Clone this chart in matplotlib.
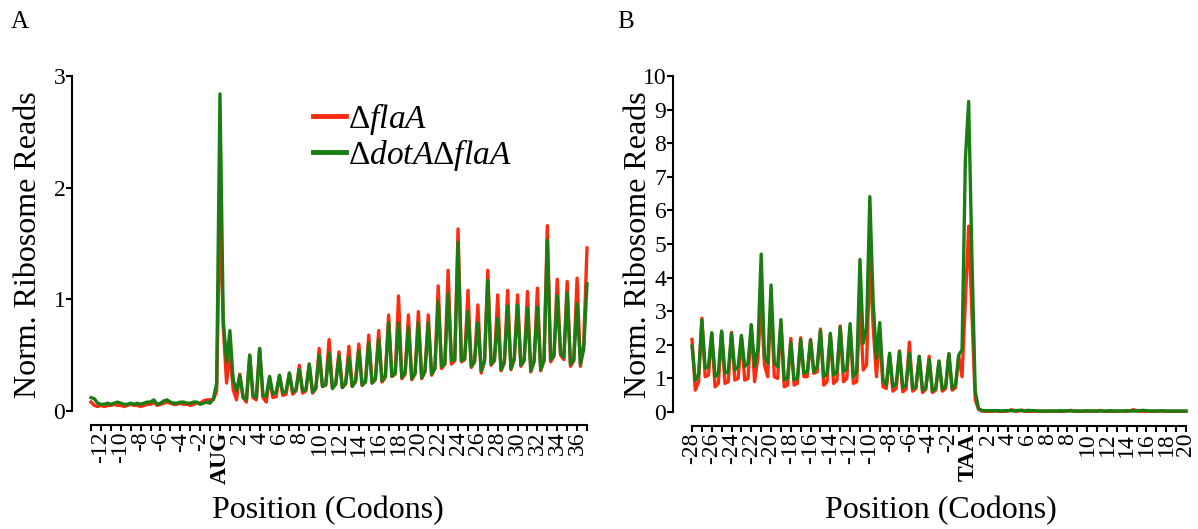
import numpy as np
import matplotlib.pyplot as plt

plt.rcParams['font.family'] = 'Liberation Serif'
plt.rcParams['mathtext.fontset'] = 'custom'
plt.rcParams['mathtext.rm'] = 'Liberation Serif'
plt.rcParams['mathtext.it'] = 'Liberation Serif:italic'

RED = '#ff2b0f'
GREEN = '#1a7d14'

# ---- panel A: reads around the start codon, codons -13..37 (3 values per codon) ----
start_first, start_last = -13, 37
start_flaA = [
    [0.08, 0.05, 0.04], [0.05, 0.04, 0.05], [0.05, 0.06, 0.05], [0.05, 0.04, 0.05],
    [0.06, 0.05, 0.05], [0.04, 0.05, 0.06], [0.06, 0.08, 0.05], [0.06, 0.07, 0.08],
    [0.07, 0.06, 0.06], [0.07, 0.06, 0.06], [0.05, 0.06, 0.07], [0.07, 0.09, 0.10],
    [0.10, 0.10, 0.18],
    [1.85, 0.75, 0.25], [0.54, 0.19, 0.10], [0.33, 0.12, 0.08], [0.50, 0.12, 0.10],
    [0.56, 0.12, 0.08], [0.30, 0.12, 0.13], [0.32, 0.14, 0.15], [0.34, 0.15, 0.18],
    [0.41, 0.16, 0.18], [0.42, 0.16, 0.20], [0.56, 0.22, 0.23], [0.64, 0.21, 0.24],
    [0.53, 0.21, 0.24], [0.58, 0.22, 0.26], [0.60, 0.23, 0.26], [0.68, 0.25, 0.28],
    [0.72, 0.26, 0.30], [0.86, 0.31, 0.33], [1.03, 0.29, 0.33], [0.86, 0.28, 0.33],
    [0.89, 0.29, 0.35], [0.86, 0.32, 0.38], [1.12, 0.38, 0.42], [1.26, 0.42, 0.45],
    [1.63, 0.44, 0.46], [1.08, 0.39, 0.44], [0.95, 0.34, 0.44], [1.26, 0.41, 0.45],
    [1.04, 0.36, 0.43], [1.08, 0.37, 0.46], [1.04, 0.40, 0.45], [1.07, 0.35, 0.44],
    [1.10, 0.36, 0.45], [1.66, 0.44, 0.49], [1.18, 0.50, 0.46], [1.16, 0.40, 0.45],
    [1.19, 0.40, 0.60], [1.46],
]
start_dotA_flaA = [
    [0.12, 0.11, 0.07], [0.06, 0.06, 0.07], [0.06, 0.07, 0.08], [0.07, 0.06, 0.06],
    [0.07, 0.06, 0.07], [0.06, 0.07, 0.08], [0.08, 0.10, 0.06], [0.07, 0.09, 0.10],
    [0.08, 0.07, 0.07], [0.08, 0.08, 0.07], [0.07, 0.08, 0.08], [0.06, 0.07, 0.08],
    [0.07, 0.11, 0.25],
    [2.84, 0.81, 0.44], [0.72, 0.28, 0.18], [0.32, 0.12, 0.10], [0.50, 0.14, 0.12],
    [0.56, 0.14, 0.13], [0.31, 0.15, 0.17], [0.32, 0.16, 0.18], [0.34, 0.17, 0.19],
    [0.37, 0.18, 0.19], [0.42, 0.17, 0.21], [0.50, 0.22, 0.24], [0.52, 0.20, 0.24],
    [0.49, 0.21, 0.25], [0.48, 0.22, 0.27], [0.54, 0.23, 0.26], [0.61, 0.25, 0.29],
    [0.64, 0.27, 0.31], [0.79, 0.31, 0.34], [0.79, 0.30, 0.35], [0.75, 0.29, 0.34],
    [0.79, 0.30, 0.36], [0.79, 0.33, 0.38], [0.98, 0.40, 0.42], [1.05, 0.45, 0.46],
    [1.51, 0.45, 0.47], [0.89, 0.40, 0.45], [0.79, 0.36, 0.45], [1.17, 0.42, 0.46],
    [0.83, 0.37, 0.44], [0.94, 0.38, 0.47], [0.95, 0.41, 0.46], [0.92, 0.36, 0.45],
    [0.93, 0.37, 0.46], [1.53, 0.46, 0.50], [1.03, 0.52, 0.48], [1.06, 0.42, 0.46],
    [0.96, 0.42, 0.55], [1.14],
]
start_ticklabels = ['-12', '-10', '-8', '-6', '-4', '-2', 'AUG', '2', '4', '6', '8',
                    '10', '12', '14', '16', '18', '20', '22', '24', '26', '28', '30',
                    '32', '34', '36']
start_yticks = [0, 1, 2, 3]

# ---- panel B: reads around the stop codon, codons -28..22 ----
stop_first, stop_last = -28, 22
stop_flaA = [
    [2.16, 0.65, 0.90], [2.79, 1.05, 1.10], [2.34, 0.75, 0.85], [2.39, 0.85, 0.90],
    [2.37, 0.95, 1.00], [2.24, 0.95, 1.00], [2.58, 0.90, 1.60], [3.23, 1.40, 1.05],
    [3.30, 1.05, 1.00], [2.64, 0.75, 0.80], [2.19, 0.80, 0.85], [2.21, 1.05, 1.05],
    [2.16, 1.15, 1.20], [2.47, 0.80, 0.90], [2.32, 0.85, 0.95], [2.56, 0.90, 1.00],
    [2.52, 0.85, 0.90], [3.15, 1.25, 1.40], [4.52, 2.54, 1.05], [2.34, 0.75, 0.70],
    [1.70, 0.62, 0.70], [1.82, 0.60, 0.68], [2.08, 0.62, 0.70], [1.65, 0.58, 0.68],
    [1.66, 0.58, 0.65], [1.50, 0.62, 0.70], [1.72, 0.65, 0.72], [1.65, 1.05, 3.30],
    [5.53, 2.90, 0.36],
    [0.08, 0.03, 0.02], [0.02, 0.02, 0.03], [0.02, 0.02, 0.02], [0.03, 0.07, 0.03],
    [0.02, 0.06, 0.02], [0.02, 0.02, 0.02], [0.02, 0.02, 0.02], [0.02, 0.03, 0.02],
    [0.02, 0.02, 0.02], [0.03, 0.05, 0.02], [0.02, 0.02, 0.02], [0.02, 0.02, 0.03],
    [0.02, 0.05, 0.02], [0.02, 0.02, 0.02], [0.02, 0.03, 0.02], [0.02, 0.03, 0.07],
    [0.04, 0.02, 0.02], [0.02, 0.02, 0.02], [0.02, 0.03, 0.02], [0.02, 0.02, 0.02],
    [0.02, 0.02, 0.02], [0.02],
]
stop_dotA_flaA = [
    [1.96, 0.95, 1.10], [2.74, 1.30, 1.35], [2.36, 1.05, 1.15], [2.41, 1.15, 1.20],
    [2.34, 1.25, 1.35], [2.28, 1.35, 1.45], [2.60, 1.35, 1.90], [4.70, 1.65, 1.45],
    [3.78, 1.45, 1.35], [2.75, 0.95, 1.00], [2.07, 0.95, 1.00], [2.16, 1.15, 1.20],
    [2.14, 1.20, 1.35], [2.42, 1.05, 1.15], [2.34, 1.10, 1.20], [2.52, 1.20, 1.30],
    [2.63, 1.05, 1.20], [4.54, 2.04, 2.50], [6.41, 3.30, 1.60], [2.66, 0.95, 0.80],
    [1.75, 0.75, 0.85], [1.79, 0.72, 0.80], [1.74, 0.70, 0.75], [1.66, 0.65, 0.72],
    [1.56, 0.62, 0.70], [1.52, 0.68, 0.75], [1.74, 0.70, 0.80], [1.70, 1.85, 7.50],
    [9.24, 4.60, 0.62],
    [0.10, 0.05, 0.04], [0.04, 0.04, 0.04], [0.04, 0.03, 0.04], [0.04, 0.04, 0.03],
    [0.05, 0.04, 0.03], [0.05, 0.04, 0.04], [0.03, 0.03, 0.03], [0.03, 0.03, 0.03],
    [0.03, 0.04, 0.03], [0.04, 0.03, 0.03], [0.03, 0.03, 0.03], [0.04, 0.03, 0.03],
    [0.03, 0.03, 0.03], [0.03, 0.04, 0.03], [0.03, 0.03, 0.03], [0.04, 0.03, 0.03],
    [0.03, 0.04, 0.05], [0.04, 0.03, 0.03], [0.03, 0.03, 0.04], [0.03, 0.03, 0.03],
    [0.03, 0.03, 0.03], [0.03],
]
# labels sit on every even codon; the second "8" is as printed on the axis
stop_ticklabels = ['-28', '-26', '-24', '-22', '-20', '-18', '-16', '-14', '-12', '-10',
                   '-8', '-6', '-4', '-2', 'TAA', '2', '4', '6', '8', '8', '10', '12',
                   '14', '16', '18', '20']
stop_yticks = list(range(0, 11))


def flatten(triplets):
    return np.array([v for codon in triplets for v in codon])


def draw_panel(ax, first, last, red, green, yticks, ticklabels, codon_label):
    red = flatten(red)
    green = flatten(green)
    x = first + np.arange(len(red)) / 3
    ax.plot(x, red, color=RED, lw=2.4, label=r'$\Delta\mathit{flaA}$', clip_on=False)
    ax.plot(x, green, color=GREEN, lw=2.4, label=r'$\Delta\mathit{dotA}\Delta\mathit{flaA}$',
            clip_on=False)
    ax.set_xlim(first, last)
    ax.set_ylim(yticks[0], yticks[-1])

    for side in ('top', 'right'):
        ax.spines[side].set_visible(False)
    ax.spines['left'].set_position(('outward', 13.5))
    ax.spines['bottom'].set_position(('outward', 10))
    for side in ('left', 'bottom'):
        ax.spines[side].set_linewidth(1.5)

    ax.set_yticks(yticks)
    ax.set_yticklabels([str(t) for t in yticks], fontsize=17)
    even = np.arange(first + first % 2, last + 1, 2)
    odd = np.arange(first + 1 - first % 2, last + 1, 2)
    ax.set_xticks(even)
    ax.set_xticks(odd, minor=True)
    ax.set_xticklabels(ticklabels, rotation=90, fontsize=17)
    for lab in ax.get_xticklabels():
        if lab.get_text() == codon_label:
            lab.set_fontweight('bold')
    ax.tick_params(which='both', direction='out', length=4, width=1.5, pad=1)


fig = plt.figure(figsize=(11.98, 5.29), dpi=100)
W, H = 1198, 529

ax_a = fig.add_axes([91 / W, (H - 411) / H, (587 - 91) / W, (411 - 76) / H])
draw_panel(ax_a, start_first, start_last, start_flaA, start_dotA_flaA,
           start_yticks, start_ticklabels, 'AUG')
ax_a.legend(loc='upper left', bbox_to_anchor=(0.447, 0.925), frameon=False, fontsize=24,
            handlelength=1.0, handletextpad=0.05, labelspacing=0.0, borderpad=0,
            borderaxespad=0)
for line in ax_a.get_legend().get_lines():
    line.set_linewidth(3.5)

ax_b = fig.add_axes([692 / W, (H - 412) / H, (1186 - 692) / W, (412 - 76) / H])
draw_panel(ax_b, stop_first, stop_last, stop_flaA, stop_dotA_flaA,
           stop_yticks, stop_ticklabels, 'TAA')

for cx in (29, 638):
    fig.text(cx / W, (H - 245) / H, 'Norm. Ribosome Reads', rotation=90, ha='center',
             va='center', fontsize=23)
fig.text(328 / W, (H - 511) / H, 'Position (Codons)', ha='center', va='center', fontsize=23)
fig.text(941 / W, (H - 511) / H, 'Position (Codons)', ha='center', va='center', fontsize=23)
fig.text(20 / W, (H - 22) / H, 'A', ha='center', va='center', fontsize=18)
fig.text(626 / W, (H - 22) / H, 'B', ha='center', va='center', fontsize=18)

fig.savefig('out.png', dpi=100)
